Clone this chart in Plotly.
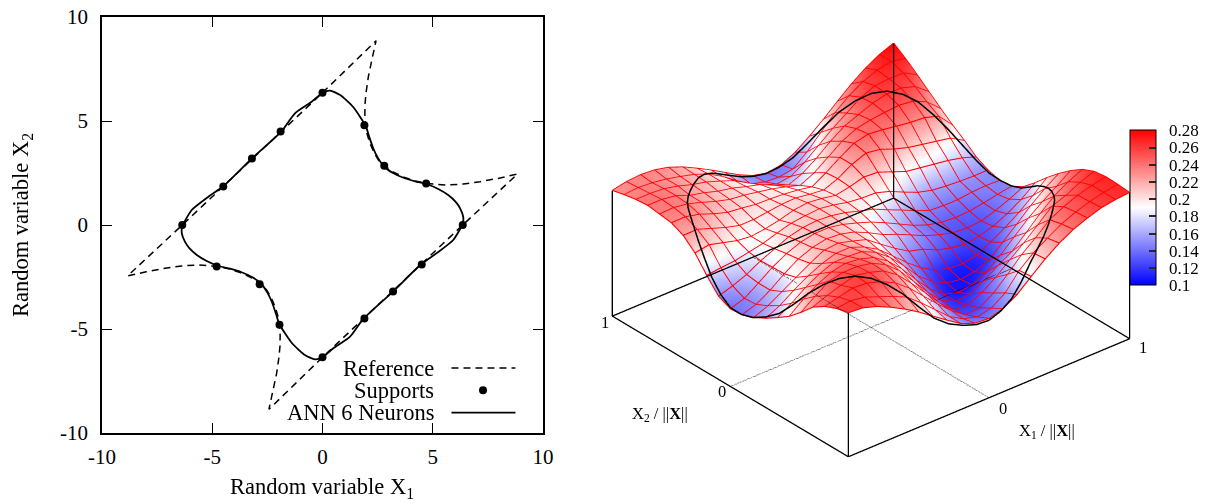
import plotly.graph_objects as go

FONT = "Liberation Serif"
PAGE_OFFSET = 8          # the page body margin in front of the figure
W, H = 1202, 496
def fx(px): return (px - PAGE_OFFSET) / W
def fy(py): return 1 - (py - PAGE_OFFSET) / H

# ---------- left panel ----------
ref_x = [0, 2.43, 2.25, 2.08, 1.98, 1.93, 1.92, 1.96, 2.03, 2.15, 2.35, 2.55, 2.8, 3.2, 3.7, 4.2, 4.7, 5.2, 5.63, 6.4, 7.14, 8.0, 8.84, 6.36,
         0, -2.43, -2.25, -2.08, -1.98, -1.93, -1.92, -1.96, -2.03, -2.15, -2.35, -2.55, -2.8, -3.2, -3.7, -4.2, -4.7, -5.2, -5.63, -6.4, -7.14, -8.0, -8.84, -6.36, 0]
ref_y = [6.36, 8.86, 8.0, 7.13, 6.4, 5.85, 5.3, 4.76, 4.35, 3.93, 3.45, 3.1, 2.85, 2.55, 2.3, 2.12, 2.0, 1.94, 1.92, 1.97, 2.08, 2.25, 2.45, 0,
         -6.36, -8.86, -8.0, -7.13, -6.4, -5.85, -5.3, -4.76, -4.35, -3.93, -3.45, -3.1, -2.85, -2.55, -2.3, -2.12, -2.0, -1.94, -1.92, -1.97, -2.08, -2.25, -2.45, 0, 6.36]
ann_x = [0, 0.34, 0.8, 1.4, 1.96, 2.1, 2.3, 2.5, 2.8, 3.2, 3.67, 4.2, 4.75, 5.25, 5.7, 6.05, 6.24, 6.38, 6.36, 6.3, 5.93, 5.17, 4.47, 3.2, 1.84, 1.25, 0.49, 0,
         -0.34, -0.8, -1.4, -1.96, -2.1, -2.3, -2.5, -2.8, -3.2, -3.67, -4.2, -4.75, -5.25, -5.7, -6.05, -6.24, -6.38, -6.36, -6.3, -5.93, -5.17, -4.47, -3.2, -1.84, -1.25, -0.49, 0]
ann_y = [6.36, 6.46, 6.25, 5.66, 4.76, 4.3, 3.69, 3.25, 2.8, 2.5, 2.27, 2.1, 1.96, 1.73, 1.44, 1.1, 0.8, 0.4, 0.05, -0.08, -0.72, -1.36, -1.89, -3.2, -4.53, -5.37, -5.93, -6.36,
         -6.46, -6.25, -5.66, -4.76, -4.3, -3.69, -3.25, -2.8, -2.5, -2.27, -2.1, -1.96, -1.73, -1.44, -1.1, -0.8, -0.4, -0.05, 0.08, 0.72, 1.36, 1.89, 3.2, 4.53, 5.37, 5.93, 6.36]
sup_x = [0, 1.9, 2.8, 4.7, 6.36, 4.5, 3.2, 1.9, 0, -1.95, -2.85, -4.8, -6.36, -4.5, -3.2, -1.9]
sup_y = [6.36, 4.8, 2.85, 2.0, 0, -1.9, -3.2, -4.5, -6.36, -4.8, -2.85, -2.0, 0, 1.85, 3.2, 4.5]
axis_ticks = [-10, -5, 0, 5, 10]
axis_labels = ["-10", "-5", "0", "5", "10"]
legend_names = ["Reference", "Supports", "ANN 6 Neurons"]
legend_rows = [-6.88, -7.95, -9.02]
legend_key_x = [5.85, 8.75]
legend_dot_x = [7.28]
legend_text_x = 5.15

# ---------- right panel ----------
u_grid = [-1.0, -0.9, -0.8, -0.7, -0.6, -0.5, -0.4, -0.3, -0.2, -0.1, 0.0, 0.1, 0.2, 0.3, 0.4, 0.5, 0.6, 0.7, 0.8, 0.9, 1.0]
v_grid = list(u_grid)
z_rows = [
 [.260,.258,.250,.238,.224,.208,.190,.172,.155,.145,.143,.150,.165,.187,.208,.226,.240,.250,.258,.262,.264],
 [.255,.258,.254,.244,.234,.222,.201,.178,.155,.140,.133,.138,.155,.185,.206,.222,.237,.248,.256,.262,.266],
 [.246,.252,.258,.256,.248,.235,.215,.190,.165,.142,.124,.126,.142,.165,.190,.210,.232,.245,.255,.262,.267],
 [.232,.242,.250,.257,.252,.244,.226,.200,.172,.143,.120,.118,.130,.147,.168,.188,.210,.233,.242,.255,.264],
 [.210,.228,.245,.250,.250,.245,.232,.210,.180,.150,.124,.112,.115,.128,.145,.160,.183,.207,.228,.243,.255],
 [.190,.210,.226,.238,.243,.240,.232,.215,.190,.160,.132,.112,.105,.108,.120,.140,.163,.186,.205,.222,.240],
 [.175,.190,.208,.222,.232,.232,.230,.218,.198,.172,.143,.123,.109,.105,.108,.118,.140,.162,.185,.205,.222],
 [.161,.173,.190,.205,.217,.225,.225,.215,.200,.178,.155,.135,.120,.112,.110,.115,.128,.143,.160,.180,.202],
 [.150,.160,.175,.190,.205,.218,.220,.213,.205,.186,.168,.152,.145,.133,.126,.122,.126,.133,.145,.160,.180],
 [.142,.150,.165,.184,.200,.210,.215,.213,.206,.194,.180,.170,.158,.146,.137,.130,.128,.130,.138,.148,.160],
 [.140,.148,.165,.183,.197,.207,.212,.212,.207,.199,.190,.178,.165,.152,.142,.136,.134,.135,.139,.144,.148],
 [.150,.158,.168,.182,.193,.204,.210,.212,.210,.205,.197,.190,.178,.167,.155,.145,.143,.143,.146,.147,.146],
 [.175,.178,.180,.185,.190,.198,.205,.208,.210,.206,.200,.197,.196,.188,.176,.165,.158,.155,.153,.152,.152],
 [.203,.207,.200,.193,.190,.193,.198,.205,.208,.205,.200,.205,.212,.210,.200,.190,.186,.182,.178,.172,.163],
 [.222,.222,.213,.204,.197,.197,.200,.203,.204,.200,.197,.207,.222,.232,.228,.218,.210,.205,.200,.195,.180],
 [.232,.232,.226,.216,.208,.205,.201,.200,.198,.195,.190,.205,.222,.237,.243,.240,.236,.232,.230,.222,.195],
 [.235,.236,.232,.224,.215,.208,.205,.200,.195,.188,.180,.192,.210,.228,.240,.245,.248,.250,.247,.235,.212],
 [.238,.238,.234,.224,.218,.210,.205,.197,.190,.178,.168,.178,.195,.215,.232,.242,.252,.258,.258,.250,.230],
 [.236,.236,.234,.228,.220,.214,.205,.195,.180,.166,.157,.160,.175,.195,.215,.232,.250,.260,.262,.262,.248],
 [.232,.234,.232,.228,.222,.215,.205,.190,.172,.155,.148,.146,.150,.170,.195,.220,.240,.255,.265,.270,.265],
 [.227,.232,.234,.232,.226,.216,.203,.189,.174,.159,.147,.141,.145,.157,.175,.195,.217,.238,.256,.270,.280],
]
# the black curve on the unit circle, every five degrees
loop_u = [1.0, .996, .985, .966, .94, .906, .866, .819, .766, .707, .643, .574, .5, .423, .342, .259, .174, .087,
          0.0, -.087, -.174, -.259, -.342, -.423, -.5, -.574, -.643, -.707, -.766, -.819, -.866, -.906, -.94, -.966, -.985, -.996,
          -1.0, -.996, -.985, -.966, -.94, -.906, -.866, -.819, -.766, -.707, -.643, -.574, -.5, -.423, -.342, -.259, -.174, -.087,
          0.0, .087, .174, .259, .342, .423, .5, .574, .643, .707, .766, .819, .866, .906, .94, .966, .985, .996, 1.0]
loop_v = [0.0, .087, .174, .259, .342, .423, .5, .574, .643, .707, .766, .819, .866, .906, .94, .966, .985, .996,
          1.0, .996, .985, .966, .94, .906, .866, .819, .766, .707, .643, .574, .5, .423, .342, .259, .174, .087,
          0.0, -.087, -.174, -.259, -.342, -.423, -.5, -.574, -.643, -.707, -.766, -.819, -.866, -.906, -.94, -.966, -.985, -.996,
          -1.0, -.996, -.985, -.966, -.94, -.906, -.866, -.819, -.766, -.707, -.643, -.574, -.5, -.423, -.342, -.259, -.174, -.087, 0.0]
loop_z = [.149, .148, .152, .166, .185, .207, .228, .247, .258, .262, .257, .244, .226, .202, .178, .157, .146, .142,
          .146, .155, .168, .182, .196, .207, .214, .216, .218, .222, .226, .231, .232, .226, .213, .195, .173, .155,
          .1425, .141, .145, .155, .169, .192, .2175, .238, .252, .258, .255, .243, .224, .198, .173, .157, .1476, .141,
          .14, .147, .159, .178, .199, .212, .221, .229, .235, .236, .23, .224, .217, .209, .198, .186, .171, .157, .149]
box_u = [-1, 1, 1, -1, -1]
box_v = [-1, -1, 1, 1, -1]
corner_u = [-1, -1, 1, 1]
corner_v = [-1, 1, -1, 1]
corner_z = [.26, .227, .264, .28]
dot_u0_v = [[1, .62], [.5, -1]]
dot_v0_u = [[-1, .3], [.42, 1]]
cbar_ticks = [.1, .12, .14, .16, .18, .2, .22, .24, .26, .28]
cbar_labels = ["\u00a0\u00a0" + s for s in ["0.1", "0.12", "0.14", "0.16", "0.18", "0.2", "0.22", "0.24", "0.26", "0.28"]]
ZRANGE = [0, .28]
EYE = dict(x=-.5567, y=-.6634, z=.5)
EYE_SCALE = 3.0
ASPECT = dict(x=1.53, y=1.53, z=.745)
MESH_LIFT = .0004   # keeps the mesh just above the skin so it is not swallowed by it

fig = go.Figure()
# left
fig.add_trace(go.Scatter(x=ref_x, y=ref_y, mode="lines", line=dict(color="black", width=1.5, dash="7px,5px"), hoverinfo="skip"))
fig.add_trace(go.Scatter(x=ann_x, y=ann_y, mode="lines", line=dict(color="black", width=1.8, shape="spline", smoothing=.6), hoverinfo="skip"))
fig.add_trace(go.Scatter(x=sup_x, y=sup_y, mode="markers", marker=dict(color="black", size=8), hoverinfo="skip"))
# legend keys
fig.add_trace(go.Scatter(x=legend_key_x, y=[legend_rows[0]] * 2, mode="lines", line=dict(color="black", width=1.5, dash="7px,5px"), hoverinfo="skip"))
fig.add_trace(go.Scatter(x=legend_dot_x, y=[legend_rows[1]], mode="markers", marker=dict(color="black", size=8), hoverinfo="skip"))
fig.add_trace(go.Scatter(x=legend_key_x, y=[legend_rows[2]] * 2, mode="lines", line=dict(color="black", width=1.8), hoverinfo="skip"))

# surface
fig.add_trace(go.Surface(
    x=u_grid, y=v_grid, z=z_rows, scene="scene", cmin=.1, cmax=.28,
    colorscale=[[0, "rgb(0,0,255)"], [.5, "rgb(255,255,255)"], [1, "rgb(255,0,0)"]],
    lighting=dict(ambient=1, diffuse=0, specular=0, fresnel=0, roughness=1),
    hoverinfo="skip",
    contours=dict(x=dict(show=False, highlight=False), y=dict(show=False, highlight=False), z=dict(show=False, highlight=False)),
    colorbar=dict(
        x=fx(1130), xanchor="left", xpad=0, ypad=0, y=fy(207.8), yanchor="middle",
        len=154.5 / H, lenmode="fraction", thickness=26, thicknessmode="pixels",
        tickmode="array", tickvals=cbar_ticks, ticktext=cbar_labels, ticks="inside", ticklen=7,
        tickcolor="rgb(40,40,40)", outlinecolor="black", outlinewidth=1, tickwidth=1.5,
        tickfont=dict(family=FONT, size=17, color="black"),
    ),
))
# red mesh lines along both grid directions
mesh_u, mesh_v, mesh_z = [], [], []
for i, v in enumerate(v_grid):
    for j, u in enumerate(u_grid):
        mesh_u.append(u); mesh_v.append(v); mesh_z.append(z_rows[i][j] + MESH_LIFT)
    mesh_u.append(None); mesh_v.append(None); mesh_z.append(None)
for j, u in enumerate(u_grid):
    for i, v in enumerate(v_grid):
        mesh_u.append(u); mesh_v.append(v); mesh_z.append(z_rows[i][j] + MESH_LIFT)
    mesh_u.append(None); mesh_v.append(None); mesh_z.append(None)
fig.add_trace(go.Scatter3d(x=mesh_u, y=mesh_v, z=mesh_z, mode="lines", line=dict(color="rgb(255,0,0)", width=2.2),
                           scene="scene", hoverinfo="skip", connectgaps=False))
# overlay scene
black = dict(color="black", width=2.6)
def s3(u, v, z, line):
    fig.add_trace(go.Scatter3d(x=u, y=v, z=z, mode="lines", line=line, scene="scene2", hoverinfo="skip"))
s3(box_u, box_v, [0] * 5, black)
for cu, cv, cz in zip(corner_u, corner_v, corner_z):
    s3([cu, cu], [cv, cv], [0, cz], black)
dotted = dict(color="black", width=2, dash="dot")
for seg in dot_u0_v:
    s3([0, 0], seg, [0, 0], dotted)
for seg in dot_v0_u:
    s3(seg, [0, 0], [0, 0], dotted)
s3(loop_u, loop_v, loop_z, dict(color="black", width=3))

hidden = dict(visible=False, showgrid=False, zeroline=False, showticklabels=False, showspikes=False, title="")
cam = dict(eye=dict(x=EYE["x"] * EYE_SCALE, y=EYE["y"] * EYE_SCALE, z=EYE["z"] * EYE_SCALE),
           center=dict(x=0, y=0, z=0), up=dict(x=0, y=0, z=1), projection=dict(type="orthographic"))
scene_dom = dict(x=[fx(540.5), fx(1200.5)], y=[fy(489.6), fy(9.6)])
def scene_cfg():
    return dict(domain=scene_dom, bgcolor="rgba(0,0,0,0)", camera=cam, aspectmode="manual", aspectratio=ASPECT,
                xaxis=dict(range=[-1, 1], **hidden), yaxis=dict(range=[-1, 1], **hidden), zaxis=dict(range=ZRANGE, **hidden))

def axis(dom, standoff):
    return dict(range=[-10, 10], domain=dom, tickmode="array", tickvals=axis_ticks, ticktext=axis_labels,
                ticks="inside", ticklen=10, tickwidth=1.2, tickcolor="black", showline=True, mirror="ticks",
                linecolor="black", linewidth=1.5, showgrid=False, zeroline=False, automargin=False, ticklabelstandoff=standoff,
                ticklabeloverflow="allow",
                tickfont=dict(family=FONT, size=21, color="black"))

annots = []
for name, row in zip(legend_names, legend_rows):
    annots.append(dict(text=name, x=legend_text_x, y=row, xref="x", yref="y", xanchor="right", yanchor="middle", showarrow=False,
                       font=dict(family=FONT, size=22.5, color="black")))
for txt, px, py in [("1", 605, 322), ("0", 722, 391), ("0", 1003, 408), ("1", 1143, 347),
                    ("X<sub>2</sub> / ||<b>X</b>||", 660, 414), ("X<sub>1</sub> / ||<b>X</b>||", 1047, 431)]:
    annots.append(dict(text=txt, x=fx(px), y=fy(py), xref="paper", yref="paper", xanchor="center", yanchor="middle",
                       showarrow=False, font=dict(family=FONT, size=16.5, color="black")))
annots.append(dict(text="Random variable X<sub>1</sub>", x=fx(322), y=fy(488), xref="paper", yref="paper", xanchor="center",
                   yanchor="middle", showarrow=False, font=dict(family=FONT, size=22.5, color="black")))
annots.append(dict(text="Random variable X<sub>2</sub>", x=fx(22), y=fy(225), xref="paper", yref="paper", xanchor="center",
                   yanchor="middle", showarrow=False, textangle=-90, font=dict(family=FONT, size=22.5, color="black")))

fig.update_layout(
    width=W, height=H, margin=dict(l=0, r=0, t=0, b=0), autosize=False, showlegend=False,
    paper_bgcolor="white", plot_bgcolor="white",
    xaxis=axis([fx(102), fx(543)], 4),
    yaxis=axis([fy(433), fy(17)], 8),
    scene=scene_cfg(), scene2=scene_cfg(), annotations=annots,
)
fig.write_html("out.html")
